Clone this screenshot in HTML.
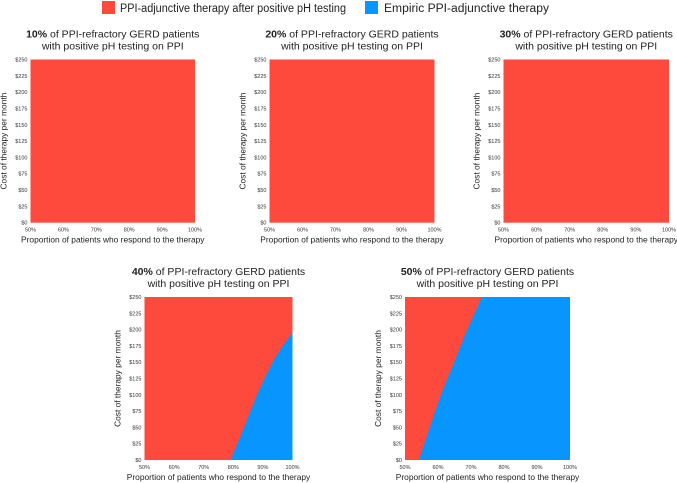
<!DOCTYPE html>
<html><head><meta charset="utf-8"><style>
body{margin:0;background:#fff;width:677px;height:483px;overflow:hidden;font-family:"Liberation Sans",sans-serif}
svg{display:block}
</style></head><body>
<svg id="chart" width="677" height="483">
<g>
<rect x="102" y="1" width="13" height="13" fill="#fe4a3c"/>
<text x="120" y="12" font-size="11.5" fill="#222" textLength="226" lengthAdjust="spacingAndGlyphs">PPI-adjunctive therapy after positive pH testing</text>
<rect x="365" y="1" width="13" height="13" fill="#0895fd"/>
<text x="384" y="12" font-size="11.5" fill="#222" textLength="165" lengthAdjust="spacingAndGlyphs">Empiric PPI-adjunctive therapy</text>
</g>
</svg>
<script>
const panelPercents = ["10%","20%","30%","40%","50%"];
const xTicks = [50,60,70,80,90,100];
const yTicks = [0,25,50,75,100,125,150,175,200,225,250];
// boundary curves: [response %, cost $]; empty = all red
const boundary10 = [];
const boundary20 = [];
const boundary30 = [];
const boundary40 = [[79,0],[82,32],[85,66],[88,100],[91,130],[94,156],[97,177],[100,196]];
const boundary50 = [[54.2,0],[57.5,50],[61,102],[64.5,145],[68,190],[73.3,250]];
const boundaries = [boundary10,boundary20,boundary30,boundary40,boundary50];
const layout = [[30.5,195,59.5,222.7],[269.5,434.5,59.5,222.7],[503.5,669,59.5,222.7],[144.5,292.5,297,460],[405,570,297,460]];
const NS="http://www.w3.org/2000/svg";
const svg=document.getElementById('chart');
function mk(tag,attrs,parent){const e=document.createElementNS(NS,tag);for(const k in attrs)e.setAttribute(k,attrs[k]);parent.appendChild(e);return e;}
layout.forEach((L,i)=>{
  const [x0,x1,y0,y1]=L;
  const sx=v=>x0+(v-50)/50*(x1-x0);
  const sy=v=>y1-v/250*(y1-y0);
  const g=mk('g',{},svg);
  
  
  const cx=(x0+x1)/2;
  const t=mk('text',{x:cx,y:y0-22,'text-anchor':'middle','font-size':10.5,fill:'#222'},g);
  
  
  const b=mk('tspan',{'font-weight':'bold'},t);b.textContent=panelPercents[i];
  const r=mk('tspan',{},t);r.textContent=' of PPI-refractory GERD patients';
  const t2=mk('text',{x:cx,y:y0-10,'text-anchor':'middle','font-size':10.5,fill:'#222'},g);
  t2.textContent='with positive pH testing on PPI';
  
  
  const bg=mk('rect',{x:x0,y:y0,width:x1-x0,height:y1-y0,fill:'#fe4a3c'},g);
  
  
  const bd=boundaries[i];
  if(bd.length){
    let pts=bd.map(p=>sx(p[0])+','+sy(p[1]));
    const last=bd[bd.length-1];
    if(last[1]>=250) pts.push(sx(100)+','+sy(250));
    pts.push(sx(100)+','+sy(0));
    const poly=mk('polygon',{points:pts.join(' '),fill:'#0895fd'},g);
    
    
  }
  yTicks.forEach(v=>{
    const tl=mk('text',{x:x0-3,y:sy(v)+2,'text-anchor':'end','font-size':5.5,fill:'#333'},g);
    tl.textContent='$'+v;
    
    
  });
  xTicks.forEach(v=>{
    const tl=mk('text',{x:sx(v),y:y1+9,'text-anchor':'middle','font-size':5.5,fill:'#333'},g);
    tl.textContent=v+'%';
    
    
  });
  const xt=mk('text',{x:cx,y:y1+20,'text-anchor':'middle','font-size':8.4,fill:'#222'},g);
  xt.textContent='Proportion of patients who respond to the therapy';
  
  
  const yx=x0-24, yy=(y0+y1)/2;
  const yt=mk('text',{x:yx,y:yy,'text-anchor':'middle','font-size':8.4,fill:'#222',transform:`rotate(-90 ${yx} ${yy})`},g);
  yt.textContent='Cost of therapy per month';
  
  
});
</script>
</body></html>
